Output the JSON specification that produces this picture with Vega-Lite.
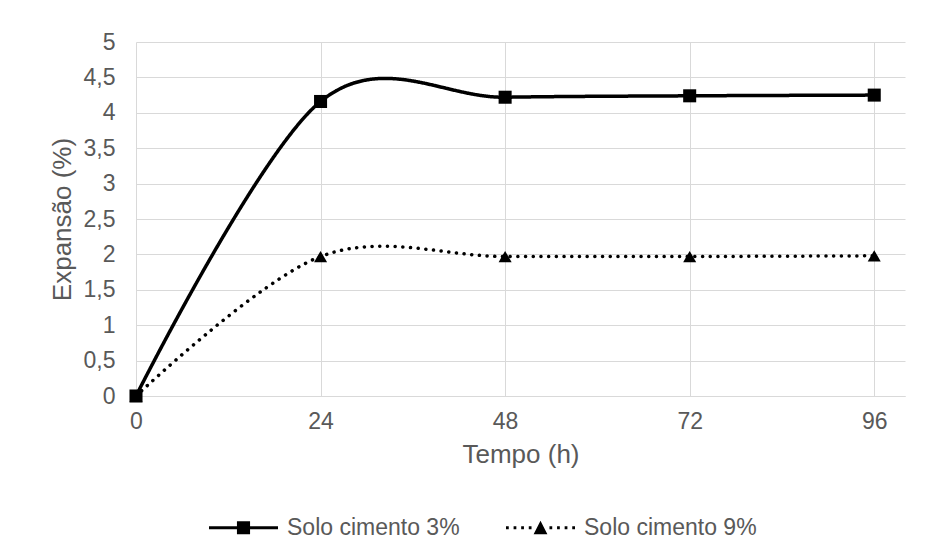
{
  "$schema": "https://vega.github.io/schema/vega-lite/v6.json",
  "width": 769,
  "height": 354,
  "autosize": "none",
  "padding": {"left": 136, "top": 42, "right": 36, "bottom": 161},
  "background": "white",
  "config": {
    "font": "Liberation Sans",
    "view": {"stroke": null},
    "axis": {
      "labelFont": "Liberation Sans",
      "titleFont": "Liberation Sans",
      "labelColor": "#595959",
      "titleColor": "#595959",
      "labelFontSize": 23,
      "titleFontSize": 26,
      "titleFontWeight": "normal",
      "gridColor": "#d9d9d9",
      "gridWidth": 1,
      "ticks": false
    }
  },
  "data": {
    "values": [
      {"t": 0, "v": 0, "s": "Solo cimento 9%"},
      {"t": 24, "v": 1.97, "s": "Solo cimento 9%"},
      {"t": 48, "v": 1.97, "s": "Solo cimento 9%"},
      {"t": 72, "v": 1.97, "s": "Solo cimento 9%"},
      {"t": 96, "v": 1.98, "s": "Solo cimento 9%"},
      {"t": 0, "v": 0, "s": "Solo cimento 3%"},
      {"t": 24, "v": 4.16, "s": "Solo cimento 3%"},
      {"t": 48, "v": 4.22, "s": "Solo cimento 3%"},
      {"t": 72, "v": 4.24, "s": "Solo cimento 3%"},
      {"t": 96, "v": 4.25, "s": "Solo cimento 3%"}
    ]
  },
  "encoding": {
    "x": {
      "field": "t",
      "type": "quantitative",
      "scale": {"domain": [0, 100], "nice": false, "zero": false},
      "axis": {
        "title": "Tempo (h)",
        "values": [0, 24, 48, 72, 96],
        "labelPadding": 14,
        "titlePadding": 8,
        "domainColor": "#d9d9d9",
        "domainWidth": 1,
        "labelFlush": false
      }
    },
    "y": {
      "field": "v",
      "type": "quantitative",
      "scale": {"domain": [0, 5], "nice": false},
      "axis": {
        "title": "Expansão (%)",
        "values": [0, 0.5, 1, 1.5, 2, 2.5, 3, 3.5, 4, 4.5, 5],
        "labelExpr": "replace(format(datum.value, '~g'), '.', ',')",
        "labelPadding": 21,
        "titlePadding": 8,
        "domain": false,
        "labelFlush": false
      }
    }
  },
  "layer": [
    {
      "mark": {"type": "line", "interpolate": "cardinal", "tension": 0, "color": "#000000", "strokeWidth": 3.5, "strokeCap": "round"},
      "encoding": {
        "detail": {"field": "s"},
        "strokeDash": {
          "condition": {"test": "datum.s === 'Solo cimento 9%'", "value": [0.1, 7.6]},
          "value": [1, 0]
        }
      }
    },
    {
      "mark": {"type": "point", "filled": true, "color": "#000000", "opacity": 1, "size": 170},
      "encoding": {
        "shape": {
          "field": "s",
          "type": "nominal",
          "scale": {"domain": ["Solo cimento 3%", "Solo cimento 9%"], "range": ["square", "triangle-up"]},
          "legend": null
        }
      }
    },
    {
      "mark": {"type": "point", "filled": true, "color": "#000000", "opacity": 0, "size": 1},
      "encoding": {
        "shape": {
          "field": "s",
          "type": "nominal",
          "scale": {"domain": ["Solo cimento 3%", "Solo cimento 9%"], "range": [
            "M-1,-0.045H1V0.045H-1Z M-0.19,-0.19H0.19V0.19H-0.19Z",
            "M-0.2,0.19L0,-0.2L0.2,0.19Z M-1,-0.045H-0.92V0.045H-1Z M-0.78,-0.045H-0.70V0.045H-0.78Z M-0.56,-0.045H-0.48V0.045H-0.56Z M-0.34,-0.045H-0.26V0.045H-0.34Z M0.26,-0.045H0.34V0.045H0.26Z M0.48,-0.045H0.56V0.045H0.48Z M0.70,-0.045H0.78V0.045H0.70Z M0.92,-0.045H1V0.045H0.92Z"
          ]},
          "legend": {
            "title": null,
            "orient": "none",
            "direction": "horizontal",
            "columns": 2,
            "legendX": 73,
            "legendY": 451,
            "symbolSize": 4761,
            "symbolOpacity": 1,
            "symbolFillColor": "#000000",
            "symbolStrokeWidth": 0,
            "labelOffset": 9,
            "columnPadding": 46,
            "labelFont": "Liberation Sans",
            "labelFontSize": 23,
            "labelColor": "#595959",
            "labelLimit": 400
          }
        }
      }
    }
  ],
  "resolve": {"scale": {"shape": "independent"}, "legend": {"shape": "independent"}}
}
